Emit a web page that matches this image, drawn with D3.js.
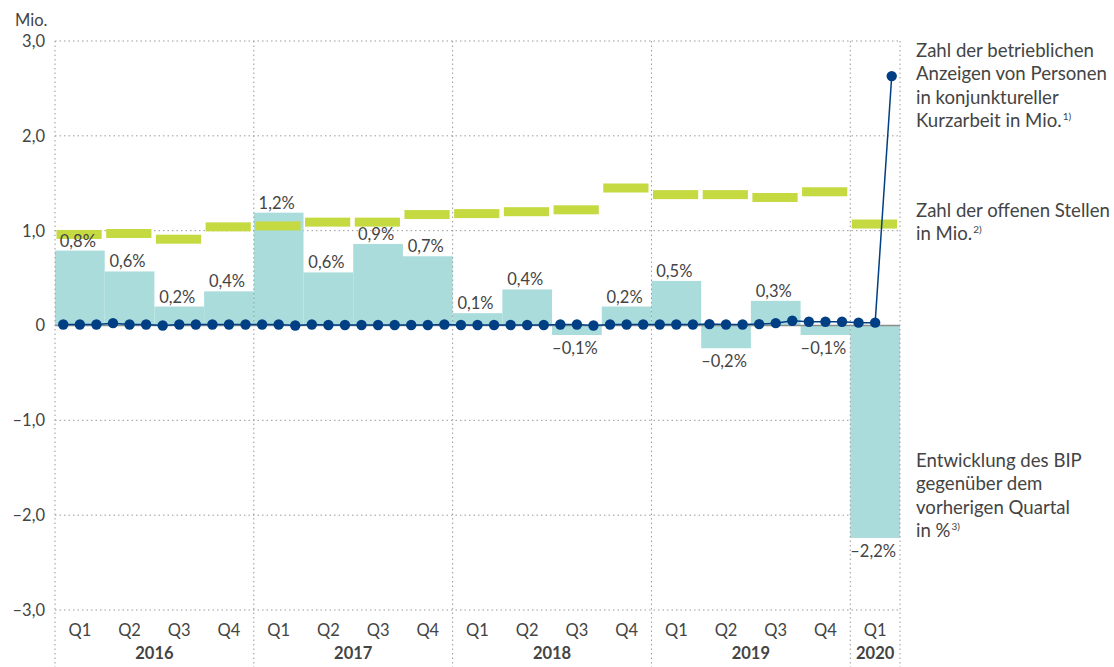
<!DOCTYPE html>
<html lang="de">
<head>
<meta charset="utf-8">
<script src="https://cdn.jsdelivr.net/npm/d3@7"></script>
<style>
  body { margin: 0; background: #fff; }
  svg { font-family: Lato, "Open Sans", sans-serif; }
</style>
</head>
<body>
<svg id="chart" width="1114" height="667"></svg>
<script>
// --- data ---
var years = ["2016", "2017", "2018", "2019", "2020"];
var quartersPerYear = [4, 4, 4, 4, 1];
var quarterLabels = ["Q1","Q2","Q3","Q4", "Q1","Q2","Q3","Q4", "Q1","Q2","Q3","Q4", "Q1","Q2","Q3","Q4", "Q1"];

// BIP change vs previous quarter, in %
var bipValues = [0.79, 0.57, 0.2, 0.36,  1.19, 0.56, 0.86, 0.73,  0.13, 0.38, -0.1, 0.2,  0.47, -0.24, 0.26, -0.1,  -2.24];

// open positions, Mio.
var openPositions = [0.96, 0.97, 0.91, 1.04,  1.05, 1.09, 1.09, 1.17,  1.18, 1.2, 1.22, 1.45,  1.38, 1.38, 1.35, 1.41,  1.07];

// Kurzarbeit notifications, monthly, Mio.
var kurzarbeit = [
  0.01, 0.01, 0.01,  0.025, 0.01, 0.01,  0.0, 0.01, 0.01,  0.01, 0.01, 0.01,
  0.01, 0.01, 0.0,   0.01, 0.005, 0.005, 0.005, 0.005, 0.005, 0.005, 0.005, 0.01,
  0.005, 0.005, 0.005, 0.005, 0.005, 0.005, 0.01, 0.01, 0.0,  0.01, 0.01, 0.01,
  0.01, 0.01, 0.01,  0.015, 0.01, 0.01,  0.015, 0.025, 0.05,  0.04, 0.04, 0.04,
  0.03, 0.03, 2.63
];

var yTicks = [-3, -2, -1, 0, 1, 2, 3];

// --- layout ---
var plotLeft = 55, plotRight = 900, plotTop = 41, plotBottom = 610;
var textColor = "#444";

var de = d3.formatLocale({ decimal: ",", thousands: ".", grouping: [3], currency: ["", " €"], minus: "\u2013" });
var fmt1 = de.format(".1f");

var svg = d3.select("#chart");

var x = d3.scaleBand()
  .domain(d3.range(quarterLabels.length))
  .range([plotLeft, plotRight])
  .padding(0);
var bw = x.bandwidth();

var xMonth = d3.scaleLinear()
  .domain([0, kurzarbeit.length])
  .range([plotLeft, plotRight]);

var y = d3.scaleLinear()
  .domain([-3, 3])
  .range([plotBottom, plotTop]);

// horizontal dotted grid
svg.append("g").selectAll("line")
  .data(yTicks.filter(function(d){ return d !== 0; }))
  .enter().append("line")
    .attr("x1", plotLeft).attr("x2", plotRight)
    .attr("y1", function(d){ return y(d); })
    .attr("y2", function(d){ return y(d); })
    .attr("stroke", "#9a9a9a")
    .attr("stroke-width", 1)
    .attr("stroke-dasharray", "1.5,3");

// BIP bars
svg.append("g").selectAll("rect")
  .data(bipValues)
  .enter().append("rect")
    .attr("x", function(d, i){ return x(i); })
    .attr("width", bw)
    .attr("y", function(d){ return y(Math.max(0, d)); })
    .attr("height", function(d){ return Math.abs(y(d) - y(0)); })
    .attr("fill", "#aadcdc");

// open positions dashes
svg.append("g").selectAll("rect")
  .data(openPositions)
  .enter().append("rect")
    .attr("x", function(d, i){ return x(i) + 1.5; })
    .attr("width", bw - 4.5)
    .attr("y", function(d){ return y(d) - 4.5; })
    .attr("height", 9)
    .attr("fill", "#c5d941");

// zero line
svg.append("line")
  .attr("x1", plotLeft).attr("x2", plotRight)
  .attr("y1", y(0)).attr("y2", y(0))
  .attr("stroke", "#8c8c8c")
  .attr("stroke-width", 1.5);

// vertical dotted grid at year borders
var yearStarts = [];
var acc = 0;
quartersPerYear.forEach(function(n){ yearStarts.push(acc); acc += n; });
var vLines = yearStarts.map(function(i){ return x(i); }).concat([plotRight]);

svg.append("g").selectAll("line")
  .data(vLines)
  .enter().append("line")
    .attr("x1", function(d){ return d; }).attr("x2", function(d){ return d; })
    .attr("y1", plotTop).attr("y2", 667)
    .attr("stroke", "#9a9a9a")
    .attr("stroke-width", 1)
    .attr("stroke-dasharray", "1.5,3");

// Kurzarbeit line + dots
var line = d3.line()
  .x(function(d, i){ return xMonth(i + 0.5); })
  .y(function(d){ return y(d); });

svg.append("path")
  .datum(kurzarbeit)
  .attr("d", line)
  .attr("fill", "none")
  .attr("stroke", "#003f83")
  .attr("stroke-width", 1.5);

svg.append("g").selectAll("circle")
  .data(kurzarbeit)
  .enter().append("circle")
    .attr("cx", function(d, i){ return xMonth(i + 0.5); })
    .attr("cy", function(d){ return y(d); })
    .attr("r", 5.2)
    .attr("fill", "#003f83");

// bar value labels
svg.append("g").selectAll("text")
  .data(bipValues)
  .enter().append("text")
    .attr("x", function(d, i){ return x(i) + bw / 2 - 2; })
    .attr("y", function(d){ return d >= 0 ? y(d) - 4 : y(d) + 19; })
    .attr("text-anchor", "middle")
    .attr("font-size", 16.5)
    .attr("fill", textColor)
    .text(function(d){ return fmt1(d) + "%"; });

// y axis labels
svg.append("g").selectAll("text")
  .data(yTicks)
  .enter().append("text")
    .attr("x", 45)
    .attr("y", function(d){ return y(d); })
    .attr("dy", "0.36em")
    .attr("text-anchor", "end")
    .attr("font-size", 16.5)
    .attr("fill", textColor)
    .text(function(d){ return d === 0 ? "0" : fmt1(d); });

svg.append("text")
  .attr("x", 15).attr("y", 26)
  .attr("font-size", 16.5)
  .attr("fill", textColor)
  .text("Mio.");

// quarter labels
svg.append("g").selectAll("text")
  .data(quarterLabels)
  .enter().append("text")
    .attr("x", function(d, i){ return x(i) + bw / 2; })
    .attr("y", 636)
    .attr("text-anchor", "middle")
    .attr("font-size", 16.5)
    .attr("fill", textColor)
    .text(function(d){ return d; });

// year labels
svg.append("g").selectAll("text")
  .data(years)
  .enter().append("text")
    .attr("x", function(d, i){
      var a = x(yearStarts[i]);
      var b = a + quartersPerYear[i] * bw;
      return (a + b) / 2;
    })
    .attr("y", 659)
    .attr("text-anchor", "middle")
    .attr("font-size", 16.5)
    .attr("font-weight", "bold")
    .attr("fill", textColor)
    .text(function(d){ return d; });

// legend texts
var legend = [
  { y: 57, lines: ["Zahl der betrieblichen", "Anzeigen von Personen", "in konjunktureller", "Kurzarbeit in Mio."], note: "1)" },
  { y: 217, lines: ["Zahl der offenen Stellen", "in Mio."], note: "2)" },
  { y: 467, lines: ["Entwicklung des BIP", "gegenüber dem", "vorherigen Quartal", "in %"], note: "3)" }
];

legend.forEach(function(item){
  var t = svg.append("text")
    .attr("font-size", 18.6)
    .attr("fill", textColor);
  item.lines.forEach(function(l, i){
    t.append("tspan")
      .attr("x", 916)
      .attr("y", item.y + i * 23.3)
      .text(l);
  });
  t.append("tspan")
    .attr("dy", -7)
    .attr("dx", 1)
    .attr("font-size", 10)
    .text(item.note);
});
</script>
</body>
</html>
